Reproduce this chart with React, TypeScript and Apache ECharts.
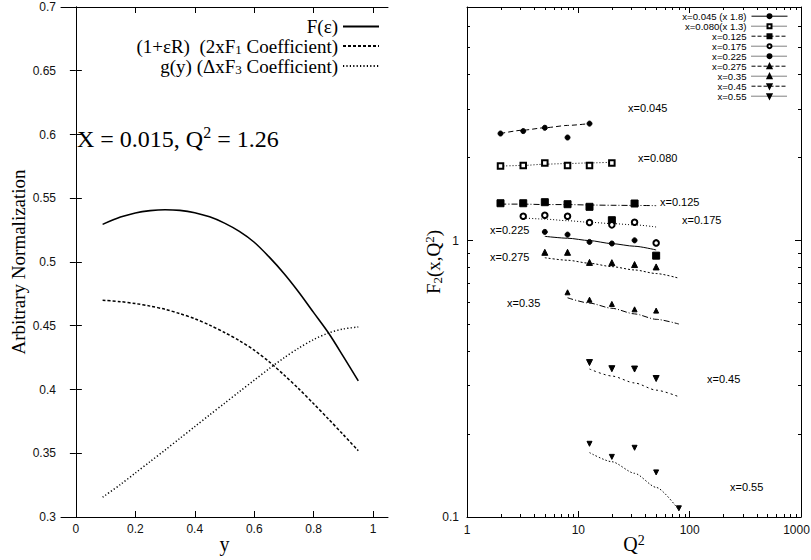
import React, { useEffect, useRef } from 'react';
import * as echarts from 'echarts';

// ---------- Left panel data ----------
const yGrid = [0.09, 0.15, 0.2, 0.25, 0.3, 0.35, 0.4, 0.45, 0.5, 0.55, 0.6, 0.65, 0.7, 0.75, 0.8, 0.85, 0.9, 0.95];
const fEps = [0.5295, 0.5352, 0.5385, 0.5403, 0.541, 0.5405, 0.5387, 0.5354, 0.5305, 0.524, 0.5155, 0.504, 0.491, 0.4763, 0.4603, 0.4443, 0.4258, 0.4068];
const oneEpsR = [0.47, 0.4689, 0.4674, 0.4654, 0.4629, 0.4595, 0.4555, 0.4505, 0.4447, 0.4383, 0.4308, 0.4218, 0.4115, 0.4005, 0.3888, 0.3768, 0.3645, 0.352];
const gY = [0.3155, 0.3255, 0.3345, 0.3435, 0.3525, 0.3617, 0.3709, 0.3801, 0.3892, 0.3983, 0.4073, 0.4163, 0.4248, 0.4325, 0.4392, 0.4443, 0.4475, 0.449];
const leftXTicks = [0, 0.2, 0.4, 0.6, 0.8, 1];

// ---------- Right panel data ----------
const q045 = [2, 3.2, 5, 8, 12.6];
const f045 = [2.44, 2.49, 2.56, 2.36, 2.65];
const t045 = [2.44, 2.51, 2.56, 2.61, 2.65];

const q080 = [2, 3.2, 5, 8, 12.6, 20];
const f080 = [1.86, 1.87, 1.91, 1.87, 1.87, 1.91];
const t080 = [1.86, 1.87, 1.89, 1.9, 1.91, 1.92];

const q125 = [2, 3.2, 5, 8, 12.6, 20, 32, 50];
const f125 = [1.365, 1.365, 1.377, 1.354, 1.325, 1.185, 1.362, 0.882];
const t125 = [1.355, 1.355, 1.35, 1.35, 1.345, 1.342, 1.34, 1.338];

const q175 = [3.2, 5, 8, 12.6, 20, 32, 50];
const f175 = [1.224, 1.235, 1.224, 1.162, 1.14, 1.165, 0.981];
const t175 = [1.208, 1.196, 1.18, 1.165, 1.152, 1.14, 1.12];

const q225 = [5, 8, 12.6, 20, 32];
const f225 = [1.075, 1.051, 0.989, 0.976, 1.002];
const tq225 = [5, 8, 12.6, 20, 32, 50];
const t225 = [1.036, 1.02, 1.0, 0.975, 0.954, 0.925];

const q275 = [5, 8, 12.6, 20, 32, 50];
const f275 = [0.907, 0.907, 0.834, 0.832, 0.819, 0.803];
const tq275 = [5, 8, 12.6, 20, 32, 50, 80];
const t275 = [0.867, 0.849, 0.828, 0.805, 0.783, 0.76, 0.731];

const q35 = [8, 12.6, 20, 32, 50];
const f35 = [0.65, 0.611, 0.59, 0.564, 0.558];
const tq35 = [8, 12.6, 20, 32, 50, 80];
const t35 = [0.621, 0.594, 0.569, 0.543, 0.519, 0.499];

const q45 = [12.6, 20, 32, 50];
const f45 = [0.362, 0.344, 0.343, 0.317];
const tq45 = [12.6, 20, 32, 50, 80];
const t45 = [0.343, 0.3236, 0.3055, 0.2877, 0.2723];

const q55 = [12.6, 20, 32, 50, 80];
const f55 = [0.184, 0.165, 0.178, 0.145, 0.1075];
const t55 = [0.171, 0.1585, 0.1439, 0.128, 0.106];

const rightXMajor = [1, 10, 100, 1000];
const rightYMajor = [0.1, 1];
const rightXMinor = [2, 3, 4, 5, 6, 7, 8, 9, 20, 30, 40, 50, 60, 70, 80, 90, 200, 300, 400, 500, 600, 700, 800, 900];
const rightYMinor = [0.2, 0.3, 0.4, 0.5, 0.6, 0.7, 0.8, 0.9, 2, 3, 4, 5, 6];

const zip = (a: number[], b: number[]) => a.map((v, i) => [v, b[i]]);

const SERIF = 'Liberation Serif';
const SANS = 'Liberation Sans';
const fmt = (v: number) => String(+Number(v).toPrecision(6));

type DS = { name: string; q: number[]; f: number[]; tq: number[]; t: number[]; symbol: string; size: number; rot: number; tline: any; lg: string };
const dataSets: DS[] = [
  { name: 'x=0.045 (x 1.8)', q: q045, f: f045, tq: q045, t: t045, symbol: 'circle', size: 5, rot: 0, tline: [5, 3], lg: 'solid' },
  { name: 'x=0.080(x 1.3)', q: q080, f: f080, tq: q080, t: t080, symbol: 'emptyRect', size: 5.5, rot: 0, tline: [1, 2], lg: 'dotted' },
  { name: 'x=0.125', q: q125, f: f125, tq: q125, t: t125, symbol: 'rect', size: 7, rot: 0, tline: [6, 2, 1, 2], lg: 'dashed' },
  { name: 'x=0.175', q: q175, f: f175, tq: q175, t: t175, symbol: 'emptyCircle', size: 5.5, rot: 0, tline: [1, 2], lg: 'dotted' },
  { name: 'x=0.225', q: q225, f: f225, tq: tq225, t: t225, symbol: 'circle', size: 5, rot: 0, tline: 'solid', lg: 'dotted' },
  { name: 'x=0.275', q: q275, f: f275, tq: tq275, t: t275, symbol: 'triangle', size: 6, rot: 0, tline: [2, 2], lg: 'dashed' },
  { name: 'x=0.35', q: q35, f: f35, tq: tq35, t: t35, symbol: 'triangle', size: 5, rot: 0, tline: [6, 2, 1, 2], lg: 'dotted' },
  { name: 'x=0.45', q: q45, f: f45, tq: tq45, t: t45, symbol: 'triangle', size: 6, rot: 180, tline: [2, 3], lg: 'dashed' },
  { name: 'x=0.55', q: q55, f: f55, tq: q55, t: t55, symbol: 'triangle', size: 5, rot: 180, tline: [1.5, 2], lg: 'dotted' },
];

const curveLabels = [
  { text: 'x=0.045', x: 628, y: 108 },
  { text: 'x=0.080', x: 638, y: 158 },
  { text: 'x=0.125', x: 660, y: 202 },
  { text: 'x=0.175', x: 682, y: 220 },
  { text: 'x=0.225', x: 490, y: 230 },
  { text: 'x=0.275', x: 490, y: 257 },
  { text: 'x=0.35', x: 507, y: 303 },
  { text: 'x=0.45', x: 707, y: 379 },
  { text: 'x=0.55', x: 730, y: 487 },
];

const tickLabel = { fontFamily: SANS, fontSize: 12, color: '#111' };
const axisLine = { show: true, lineStyle: { color: '#000', width: 1 } };

function buildOption(): any {
  const leftSeries = [
    { name: 'F', data: zip(yGrid, fEps), lineStyle: { type: 'solid', width: 1.6 } },
    { name: 'R', data: zip(yGrid, oneEpsR), lineStyle: { type: [3, 2], width: 1.5 } },
    { name: 'g', data: zip(yGrid, gY), lineStyle: { type: [1.2, 2.2], width: 1.5 } },
  ].map((s) => ({
    type: 'line', xAxisIndex: 0, yAxisIndex: 0, smooth: 0.3, symbol: 'none', name: s.name,
    data: s.data, lineStyle: { color: '#000', ...s.lineStyle }, itemStyle: { color: '#000' }, silent: true,
  }));

  const theorySeries = dataSets.map((d) => ({
    type: 'line', name: 't' + d.name, xAxisIndex: 2, yAxisIndex: 2, symbol: 'none', smooth: 0.25, smoothMonotone: 'x',
    data: zip(d.tq, d.t), lineStyle: { color: '#000', width: 1, type: d.tline }, silent: true,
  }));

  const pointSeries = dataSets.map((d) => ({
    type: 'line', name: d.name, xAxisIndex: 2, yAxisIndex: 2, symbol: d.symbol, symbolSize: d.size,
    symbolRotate: d.rot, showSymbol: true, data: zip(d.q, d.f),
    lineStyle: { opacity: 0, width: 0 }, itemStyle: { color: '#000', borderColor: '#000', borderWidth: 1 },
    silent: true, z: 3,
  }));

  const minorData = [
    ...rightXMinor.map((v) => [v, 1, 0]),
    ...rightYMinor.map((v) => [1, v, 1]),
  ];
  const minorSeries = {
    type: 'custom', xAxisIndex: 2, yAxisIndex: 2, silent: true, clip: false,
    encode: { x: 0, y: 1 }, data: minorData,
    renderItem: (params: any, api: any) => {
      const cs = params.coordSys;
      const kind = api.value(2);
      const st = { stroke: '#000', lineWidth: 1 };
      if (kind === 0) {
        const x = Math.round(api.coord([api.value(0), 1])[0]) + 0.5;
        const b = cs.y + cs.height;
        return {
          type: 'group', children: [
            { type: 'line', shape: { x1: x, y1: b, x2: x, y2: b - 3 }, style: st },
            { type: 'line', shape: { x1: x, y1: cs.y, x2: x, y2: cs.y + 3 }, style: st },
          ],
        };
      }
      const y = Math.round(api.coord([1, api.value(1)])[1]) + 0.5;
      const r = cs.x + cs.width;
      return {
        type: 'group', children: [
          { type: 'line', shape: { x1: cs.x, y1: y, x2: cs.x + 3, y2: y }, style: st },
          { type: 'line', shape: { x1: r, y1: y, x2: r - 3, y2: y }, style: st },
        ],
      };
    },
  };

  const nameStyle = (size: number, lh?: number) => ({
    fontFamily: SERIF, fontSize: size, color: '#000',
    rich: {
      n: { fontFamily: SERIF, fontSize: size, color: '#000', lineHeight: lh },
      sub: { fontFamily: SERIF, fontSize: Math.round(size * 0.68), lineHeight: Math.round(size * 0.68), color: '#000', padding: [7, 0, 0, 0] },
      sup: { fontFamily: SERIF, fontSize: Math.round(size * 0.68), lineHeight: Math.round(size * 0.68), color: '#000', padding: [0, 0, 8, 0] },
    },
  });

  const tick = (vals: number[], len = 6) => ({ show: true, inside: true, length: len, customValues: vals, lineStyle: { color: '#000' } });

  return {
    animation: false,
    backgroundColor: '#fff',
    grid: [
      { left: 61, top: 7, width: 327, height: 510, outerBoundsMode: 'none', containLabel: false },
      { left: 467, top: 7, width: 334, height: 510, outerBoundsMode: 'none', containLabel: false },
    ],
    xAxis: [
      {
        gridIndex: 0, type: 'value', min: -0.05, max: 1.05, position: 'bottom',
        axisLine, splitLine: { show: false }, axisTick: tick(leftXTicks),
        axisLabel: { ...tickLabel, margin: 6, customValues: leftXTicks, formatter: fmt },
        name: '{n|y}', nameLocation: 'middle', nameGap: 17, nameMoveOverlap: false, nameTextStyle: nameStyle(20),
      },
      {
        gridIndex: 0, type: 'value', min: -0.05, max: 1.05, position: 'top',
        axisLine, splitLine: { show: false }, axisTick: tick(leftXTicks), axisLabel: { show: false },
      },
      {
        gridIndex: 1, type: 'log', logBase: 10, min: 1, max: 1000, position: 'bottom',
        axisLine, splitLine: { show: false }, axisTick: tick(rightXMajor),
        axisLabel: {
          ...tickLabel, margin: 7, customValues: rightXMajor,
          formatter: (v: number) => (Math.round(v) >= 1000 ? '{e|' + fmt(v) + '}' : fmt(v)),
          rich: { e: { ...tickLabel, padding: [0, 9, 0, 0] } },
        },
        name: '{n|Q}{sup|2}', nameLocation: 'middle', nameGap: 17, nameMoveOverlap: false, nameTextStyle: nameStyle(20),
      },
      {
        gridIndex: 1, type: 'log', logBase: 10, min: 1, max: 1000, position: 'top',
        axisLine, splitLine: { show: false }, axisTick: tick(rightXMajor), axisLabel: { show: false },
      },
    ],
    yAxis: [
      {
        gridIndex: 0, type: 'value', min: 0.3, max: 0.7, interval: 0.05, position: 'left',
        axisLine, splitLine: { show: false }, axisTick: { show: true, inside: true, length: 6, lineStyle: { color: '#000' } },
        axisLabel: { ...tickLabel, margin: 5, formatter: fmt },
        name: '{n|Arbitrary Normalization}', nameLocation: 'middle', nameGap: 33, nameRotate: 90, nameMoveOverlap: false, nameTextStyle: nameStyle(19),
      },
      {
        gridIndex: 0, type: 'value', min: 0.3, max: 0.7, interval: 0.05, position: 'right',
        axisLine, splitLine: { show: false }, axisTick: { show: true, inside: true, length: 6, lineStyle: { color: '#000' } },
        axisLabel: { show: false },
      },
      {
        gridIndex: 1, type: 'log', logBase: 10, min: 0.1, max: 7, position: 'left',
        axisLine, splitLine: { show: false }, axisTick: tick(rightYMajor),
        axisLabel: { ...tickLabel, margin: 8, customValues: rightYMajor, formatter: fmt },
        name: '{n|F}{sub|2}{n|(x,Q}{sup|2}{n|)}', nameLocation: 'middle', nameGap: 24, nameRotate: 90, nameMoveOverlap: false, nameTextStyle: nameStyle(19),
      },
      {
        gridIndex: 1, type: 'log', logBase: 10, min: 0.1, max: 7, position: 'right',
        axisLine, splitLine: { show: false }, axisTick: tick(rightYMajor), axisLabel: { show: false },
      },
    ],
    legend: [
      {
        data: ['F', 'R', 'g'].map((n) => ({ name: n, itemStyle: { opacity: 0 } })),
        right: 431, top: 17, orient: 'vertical', align: 'right', padding: 0,
        itemWidth: 36, itemHeight: 21, itemGap: 0, selectedMode: false,
        formatter: (n: string) => ({
          F: '{n|F(ε)}',
          R: '{n|(1+εR)  (2xF}{sub|1}{n| Coefficient)}',
          g: '{n|g(y) (ΔxF}{sub|3}{n| Coefficient)}',
        } as any)[n],
        textStyle: nameStyle(19, 21),
      },
      {
        data: dataSets.map((d) => ({ name: d.name, lineStyle: { opacity: 1, width: 1, type: d.lg, color: '#000' } })),
        right: 23, top: 11.2, orient: 'vertical', align: 'right', padding: 0,
        itemWidth: 36, itemHeight: 5, itemGap: 0, selectedMode: false,
        textStyle: { fontFamily: SANS, fontSize: 9.6, color: '#000', lineHeight: 9.6 },
      },
    ],
    graphic: [
      {
        type: 'text', x: 77, y: 138.5,
        style: {
          text: 'X = 0.015, Q{sup|2} = 1.26', fontFamily: SERIF, fontSize: 24, fill: '#000', verticalAlign: 'middle',
          rich: { sup: { fontFamily: SERIF, fontSize: 16, fill: '#000', padding: [0, 0, 13, 0] } },
        },
      },
      ...curveLabels.map((l) => ({
        type: 'text', x: l.x, y: l.y,
        style: { text: l.text, fontFamily: SANS, fontSize: 11, fill: '#000', verticalAlign: 'middle' },
      })),
    ],
    series: [...leftSeries, ...theorySeries, ...pointSeries, minorSeries],
  };
}

export default function App() {
  const ref = useRef<HTMLDivElement>(null);
  useEffect(() => {
    const chart = echarts.init(ref.current!, null, { renderer: 'svg' });
    chart.setOption(buildOption());
    return () => chart.dispose();
  }, []);
  return (
    <div
      ref={ref}
      style={{ position: 'absolute', left: 0, top: 0, width: 811, height: 560, background: '#fff' }}
    />
  );
}
